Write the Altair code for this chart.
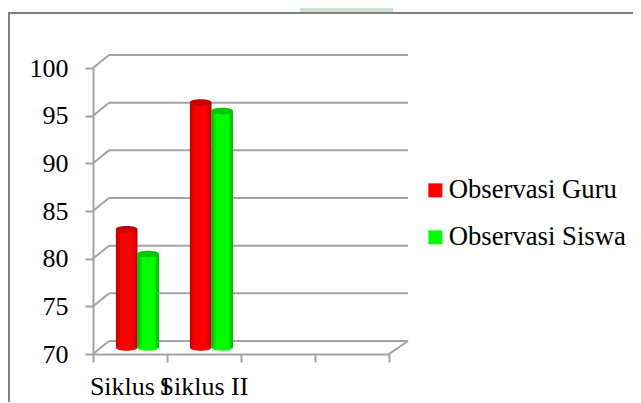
import altair as alt
import pandas as pd

FONT = "Liberation Serif"
GRAY = "#a3a3a3"

categories = ["Siklus I", "Siklus II", " ", "  "]
series_names = ["Observasi Guru", "Observasi Siswa"]
guru = [82.4, 95.7]
siswa = [79.8, 94.8]
y_ticks = [70, 75, 80, 85, 90, 95, 100]
x_ticks = [0, 1, 2, 3, 4]
colors = ["#ff0000", "#00ff00"]

# depth of the 3D box in data units
DX_L, DX_R, DY = 0.216, 0.257, 1.36

bars = pd.DataFrame(
    [{"cat": categories[i], "series": series_names[0], "v": guru[i], "base": 70} for i in range(2)]
    + [{"cat": categories[i], "series": series_names[1], "v": siswa[i], "base": 70} for i in range(2)]
)
grid = pd.DataFrame({"v": y_ticks})
grid["back"] = grid["v"] + DY
grid["x1"] = DX_L
grid["x2"] = 4 + DX_R
grid["x0"] = 0
floor = pd.DataFrame({"x": [4], "x2": [4 + DX_R], "y": [70], "y2": [70 + DY]})
ticks = pd.DataFrame({"x": x_ticks, "y": [70] * 5})

xc = alt.Scale(domain=[0, 4], nice=False, zero=False)
yc = alt.Scale(domain=[70, 100], nice=False, zero=False)
xb = alt.Scale(domain=categories, paddingInner=0, paddingOuter=0)
xo = alt.Scale(type="band", domain=series_names, paddingOuter=0.72, paddingInner=0, align=0.74)
col = alt.Scale(domain=series_names, range=colors)

frame = alt.Chart(pd.DataFrame({"a": [0]})).mark_rect(
    fill="transparent", stroke="#808080", strokeWidth=2
).encode(x=alt.value(-84), x2=alt.value(560), y=alt.value(-55), y2=alt.value(345))

band = alt.Chart(pd.DataFrame({"a": [0]})).mark_rect(fill="#cfe0d6").encode(
    x=alt.value(207), x2=alt.value(300), y=alt.value(-62), y2=alt.value(-56)
)

Y_AXIS = alt.Axis(values=y_ticks, title=None, grid=False, tickSize=8, tickWidth=2,
                  tickColor=GRAY, domainColor=GRAY, domainWidth=2, labelFont=FONT,
                  labelFontSize=26, labelColor="black", labelPadding=17)

axes = alt.Chart(ticks).mark_rule(opacity=0).encode(
    x=alt.X(
        "x:Q", scale=xc,
        axis=alt.Axis(values=x_ticks, orient="bottom", labels=False, title=None, grid=False,
                      tickSize=8, tickWidth=2, tickColor=GRAY, domainColor=GRAY, domainWidth=2),
    ),
    y=alt.Y("y:Q", scale=yc, axis=Y_AXIS),
)
back_lines = alt.Chart(grid).mark_rule(color=GRAY, strokeWidth=2).encode(
    x=alt.X("x1:Q", scale=xc, axis=None),
    x2="x2:Q",
    y=alt.Y("back:Q", scale=yc, axis=Y_AXIS),
)
diagonals = alt.Chart(grid).mark_rule(color=GRAY, strokeWidth=2).encode(
    x=alt.X("x0:Q", scale=xc, axis=None),
    x2="x1:Q",
    y=alt.Y("v:Q", scale=yc, axis=Y_AXIS),
    y2="back:Q",
)
floor_edge = alt.Chart(floor).mark_rule(color=GRAY, strokeWidth=2).encode(
    x=alt.X("x:Q", scale=xc, axis=None),
    x2="x2:Q",
    y=alt.Y("y:Q", scale=yc, axis=Y_AXIS),
    y2="y2:Q",
)

shade = alt.LinearGradient(
    gradient="linear", x1=0, x2=1, y1=0, y2=0,
    stops=[
        alt.GradientStop(offset=0, color="rgba(0,0,0,0.28)"),
        alt.GradientStop(offset=0.25, color="rgba(0,0,0,0)"),
        alt.GradientStop(offset=0.75, color="rgba(0,0,0,0)"),
        alt.GradientStop(offset=1, color="rgba(0,0,0,0.28)"),
    ],
)
OFF_Y = -6.5
ELL = "M-1,0 C-1,-0.41 1,-0.41 1,0 C1,0.41 -1,0.41 -1,0 Z"
CAP = 462

X_BAND = alt.X(
    "cat:N", scale=xb, sort=categories,
    axis=alt.Axis(orient="bottom", title=None, ticks=False, domain=False, labelAngle=0,
                  labelFont=FONT, labelFontSize=26, labelColor="black", labelPadding=19,
                  labelOverlap=False, labelBound=False, labelFlush=False),
)
X_PLAIN = alt.X("cat:N", scale=xb, sort=categories, axis=None)
XOFF = alt.XOffset("series:N", scale=xo, sort=series_names)
Y_V = alt.Y("v:Q", scale=yc, axis=Y_AXIS)
Y_B = alt.Y("base:Q", scale=yc, axis=Y_AXIS)
COLOR = alt.Color(
    "series:N", scale=col, sort=series_names,
    legend=alt.Legend(orient="none", legendX=329, legendY=109, title=None, symbolType="square",
                      symbolSize=196, symbolStrokeWidth=0, labelFont=FONT, labelFontSize=26.7,
                      labelColor="black", labelOffset=0, rowPadding=19, labelLimit=300),
)
NOLEG = alt.Color("series:N", scale=col, sort=series_names, legend=None)

bar_fill = alt.Chart(bars).mark_bar(yOffset=OFF_Y, y2Offset=OFF_Y).encode(
    x=X_BAND, xOffset=XOFF, y=Y_V, y2="base:Q", color=COLOR
)
bottoms = alt.Chart(bars).mark_point(
    shape=ELL, size=CAP, filled=True, opacity=1, yOffset=OFF_Y
).encode(x=X_PLAIN, xOffset=XOFF, y=Y_B, color=NOLEG)
bar_shade = alt.Chart(bars).mark_bar(yOffset=OFF_Y, y2Offset=OFF_Y, fill=shade).encode(
    x=X_PLAIN, xOffset=XOFF, y=Y_V, y2="base:Q"
)
tops = alt.Chart(bars).mark_point(
    shape=ELL, size=CAP, filled=True, opacity=1, yOffset=OFF_Y
).encode(x=X_PLAIN, xOffset=XOFF, y=Y_V, color=NOLEG)
top_shade = alt.Chart(bars).mark_point(
    shape=ELL, size=CAP, filled=True, color="black", opacity=0.22, yOffset=OFF_Y
).encode(x=X_PLAIN, xOffset=XOFF, y=Y_V)

chart = (
    alt.layer(axes, frame, band, back_lines, diagonals, floor_edge,
              bar_fill, bottoms, bar_shade, tops, top_shade)
    .resolve_scale(x="independent", xOffset="independent")
    .properties(
        width=296, height=286,
        autosize=alt.AutoSizeParams(type="none"),
        padding={"left": 85, "top": 60, "right": 244, "bottom": 48},
        background="white",
    )
    .configure_view(stroke=None)
)
chart.save("out.html", embed_options={"renderer": "svg", "actions": False})
